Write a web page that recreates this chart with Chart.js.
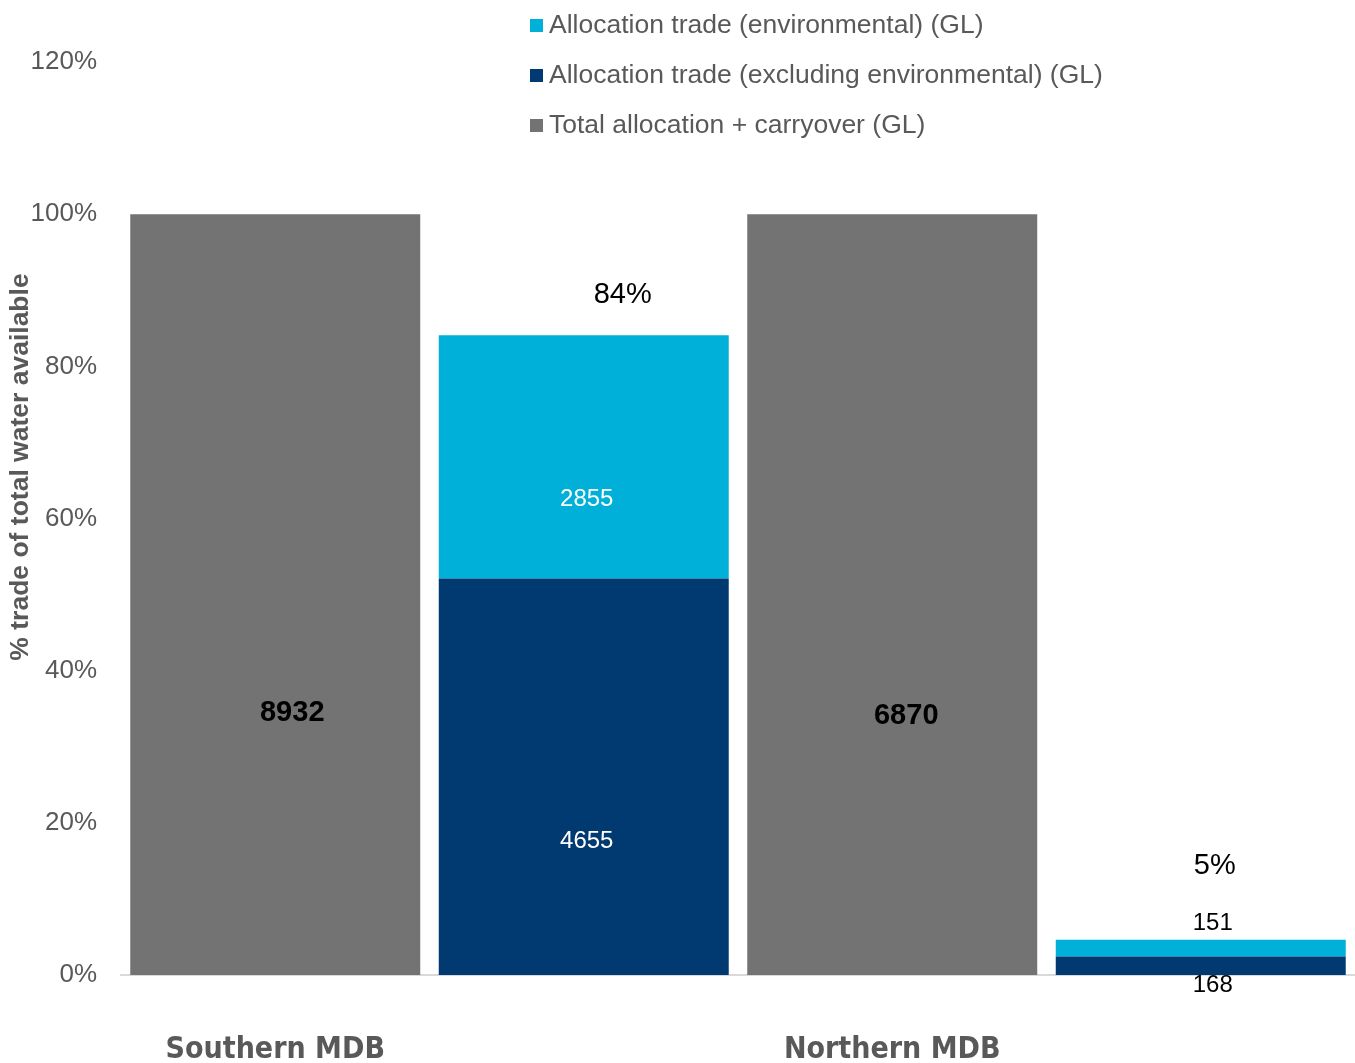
<!DOCTYPE html>
<html>
<head>
<meta charset="utf-8">
<script src="https://cdn.jsdelivr.net/npm/chart.js@4/dist/chart.umd.min.js"></script>
<style>
  html, body { margin: 0; padding: 0; background: #fff; }
  #wrap { position: relative; width: 1355px; height: 1063px; }
  #legend { position: absolute; left: 530px; top: 0; font-family: "Liberation Sans", Arial, sans-serif; font-size: 26.5px; color: #595959; }
  .item { position: absolute; white-space: nowrap; height: 30px; line-height: 30px; }
  .sw { display: inline-block; width: 13px; height: 13px; margin-right: 6px; vertical-align: 1px; }
</style>
</head>
<body>
<div id="wrap">
  <canvas id="c" width="1355" height="1063"></canvas>
  <div id="legend"></div>
</div>
<script>
// ---- data (GL) ----
const categories = ['Southern MDB', '', 'Northern MDB', ''];
const totalAvailableGL = [8932, null, 6870, null];      // Total allocation + carryover (GL)
const tradeEnvGL = [null, 2855, null, 151];             // Allocation trade (environmental)
const tradeNonEnvGL = [null, 4655, null, 168];          // Allocation trade (excluding environmental)
const regionTotalGL = [8932, 8932, 6870, 6870];         // denominator for each bar
const yTicks = [0, 20, 40, 60, 80, 100, 120];

const seriesNames = [
  'Allocation trade (environmental) (GL)',
  'Allocation trade (excluding environmental) (GL)',
  'Total allocation + carryover (GL)'
];
const colors = { env: '#00B0D8', nonEnv: '#003A70', total: '#727372' };

const pct = arr => arr.map((v, i) => v == null ? null : v / regionTotalGL[i] * 100);

// legend (HTML, vertical)
const legendEl = document.getElementById('legend');
[[seriesNames[0], colors.env], [seriesNames[1], colors.nonEnv], [seriesNames[2], colors.total]].forEach((it, i) => {
  const d = document.createElement('div');
  d.className = 'item';
  d.style.top = (9 + i * 50) + 'px';
  d.innerHTML = '<span class="sw" style="background:' + it[1] + '"></span>' + it[0];
  legendEl.appendChild(d);
});

const FONT = '"Liberation Sans", Arial, sans-serif';

// label plugin: draws GL values and percent totals
const labelPlugin = {
  id: 'valueLabels',
  afterDatasetsDraw(chart) {
    const ctx = chart.ctx;
    const x = chart.scales.x, y = chart.scales.y;
    const cfg = chart.options.plugins.valueLabels;
    ctx.save();
    ctx.textAlign = 'center';
    ctx.textBaseline = 'middle';
    cfg.items.forEach(it => {
      const ds = chart.data.datasets[it.ds];
      const raw = ds.gl[it.idx];
      const meta = chart.getDatasetMeta(it.ds);
      const el = meta.data[it.idx];
      let py;
      if (it.at === 'above') py = el.y + it.dy;
      else if (it.at === 'axis') py = y.getPixelForValue(0) + it.dy;
      else py = y.getPixelForValue(it.at);
      ctx.font = it.font;
      ctx.fillStyle = it.color;
      ctx.fillText(String(raw), el.x + it.dx, py);
    });
    // percent totals above the trade bars
    cfg.totals.forEach(t => {
      const i = t.idx;
      const share = (tradeEnvGL[i] + tradeNonEnvGL[i]) / regionTotalGL[i] * 100;
      const top = y.getPixelForValue(pct(tradeEnvGL)[i] + pct(tradeNonEnvGL)[i]);
      ctx.font = '29px ' + FONT;
      ctx.fillStyle = '#000';
      ctx.fillText(Math.round(share) + '%', x.getPixelForValue(i) + t.dx, top + t.dy);
    });
    // y-axis title
    ctx.translate(21, 467);
    ctx.rotate(-Math.PI / 2);
    ctx.font = 'bold 26.5px ' + FONT;
    ctx.fillStyle = '#595959';
    ctx.fillText('% trade of total water available', 0, 0);
    ctx.restore();
  }
};

new Chart(document.getElementById('c'), {
  type: 'bar',
  data: {
    labels: categories,
    datasets: [
      { label: seriesNames[2], data: pct(totalAvailableGL).map(v => v == null ? null : 100), gl: totalAvailableGL, backgroundColor: colors.total, stack: 's' },
      { label: seriesNames[1], data: pct(tradeNonEnvGL), gl: tradeNonEnvGL, backgroundColor: colors.nonEnv, stack: 's' },
      { label: seriesNames[0], data: pct(tradeEnvGL), gl: tradeEnvGL, backgroundColor: colors.env, stack: 's' }
    ]
  },
  options: {
    responsive: false,
    animation: false,
    events: [],
    layout: { padding: { top: 62, right: 0, left: 0, bottom: 0 } },
    datasets: { bar: { barPercentage: 0.94, categoryPercentage: 1.0, borderWidth: 0 } },
    scales: {
      x: {
        stacked: true,
        grid: { display: false, drawTicks: false },
        border: { display: true, color: '#D9D9D9', width: 2 },
        ticks: {
          padding: 57,
          color: '#595959',
          font: { family: '"Liberation Sans Narrow", "DejaVu Sans Condensed", Arial, sans-serif', size: 30, weight: 'bold' },
          maxRotation: 0, autoSkip: false
        },
        afterFit(s) { s.height = 88; }
      },
      y: {
        stacked: true,
        min: 0, max: 120,
        afterBuildTicks(s) { s.ticks = yTicks.map(v => ({ value: v })); },
        grid: { display: false, drawTicks: false },
        border: { display: false },
        ticks: {
          padding: 24,
          color: '#595959',
          font: { family: FONT, size: 26 },
          callback: v => v + '%'
        },
        afterFit(s) { s.width = 121; }
      }
    },
    plugins: {
      legend: { display: false },
      tooltip: { enabled: false },
      valueLabels: {
        items: [
          { ds: 0, idx: 0, at: 34.4, dx: 17, dy: 0, font: 'bold 29px ' + FONT, color: '#000' },
          { ds: 0, idx: 2, at: 34.0, dx: 14, dy: 0, font: 'bold 29px ' + FONT, color: '#000' },
          { ds: 2, idx: 1, at: 62.5, dx: 3, dy: 0, font: '24px ' + FONT, color: '#fff' },
          { ds: 1, idx: 1, at: 17.5, dx: 3, dy: 0, font: '24px ' + FONT, color: '#fff' },
          { ds: 2, idx: 3, at: 'above', dx: 12, dy: -16, font: '24px ' + FONT, color: '#000' },
          { ds: 1, idx: 3, at: 'axis', dx: 12, dy: 10, font: '24px ' + FONT, color: '#000' }
        ],
        totals: [ { idx: 1, dx: 39, dy: -40 }, { idx: 3, dx: 14, dy: -74 } ]
      }
    }
  },
  plugins: [labelPlugin]
});
</script>
</body>
</html>
